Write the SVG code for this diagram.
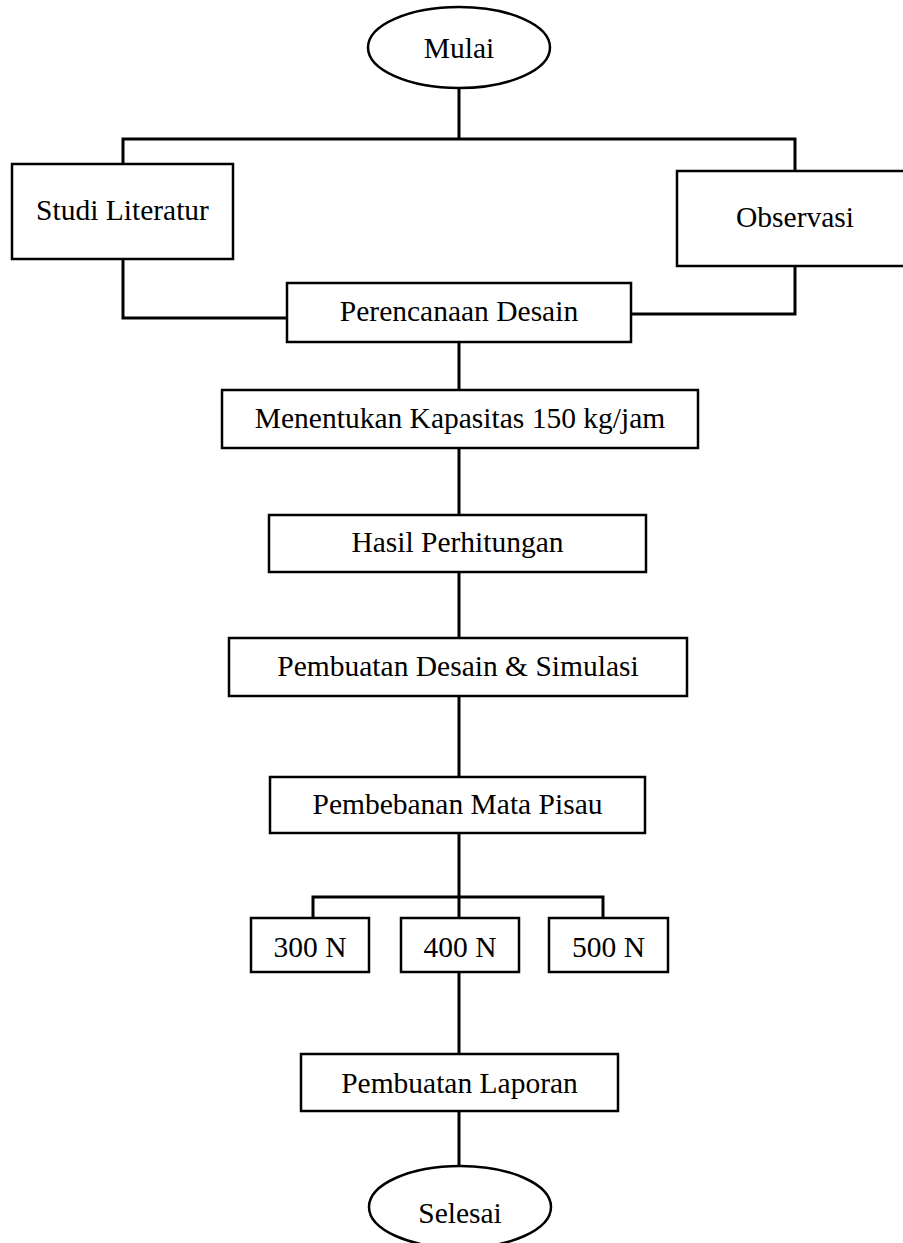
<svg xmlns="http://www.w3.org/2000/svg" width="903" height="1243" viewBox="0 0 903 1243">
<style>
.box{fill:#fff;stroke:#000;stroke-width:2.5}
.ln{fill:none;stroke:#000;stroke-width:3;stroke-linecap:square;stroke-linejoin:miter}
text{font-family:"Liberation Serif","Times New Roman",serif;font-size:29.5px;fill:#000;text-anchor:middle}
</style>
<rect width="903" height="1243" fill="#fff"/>
<g id="connectors">
<path class="ln" d="M459,88 V139 M123,139 H795 M123,139 V164 M795,139 V171"/>
<path class="ln" d="M123,259 V318 H287 M795,266 V314 H631"/>
<path class="ln" d="M459,342 V390 M459,448 V515 M459,572 V638 M459,696 V777 M459,833 V918"/>
<path class="ln" d="M313,897 H603 M313,897 V918 M603,897 V918"/>
<path class="ln" d="M459,972 V1054 M459,1111 V1166"/>
</g>
<g id="mulai"><ellipse class="box" cx="459" cy="47.5" rx="91" ry="40.5"/><text x="459" y="58">Mulai</text></g>
<g id="studi"><rect class="box" x="12" y="164" width="221" height="95"/><text x="122.5" y="220">Studi Literatur</text></g>
<g id="observasi"><rect class="box" x="677" y="171" width="235" height="95"/><text x="795" y="227">Observasi</text></g>
<g id="perencanaan"><rect class="box" x="287" y="283" width="344" height="59"/><text x="459" y="321">Perencanaan Desain</text></g>
<g id="kapasitas"><rect class="box" x="222" y="390" width="476" height="58"/><text x="460" y="428">Menentukan Kapasitas 150 kg/jam</text></g>
<g id="hasil"><rect class="box" x="269" y="515" width="377" height="57"/><text x="457.5" y="552">Hasil Perhitungan</text></g>
<g id="desain"><rect class="box" x="229" y="638" width="458" height="58"/><text x="458" y="676">Pembuatan Desain &amp; Simulasi</text></g>
<g id="pembebanan"><rect class="box" x="270" y="777" width="375" height="56"/><text x="457.5" y="814">Pembebanan Mata Pisau</text></g>
<g id="n300"><rect class="box" x="251" y="918" width="118" height="54"/><text x="310" y="957">300 N</text></g>
<g id="n400"><rect class="box" x="401" y="918" width="118" height="54"/><text x="460" y="957">400 N</text></g>
<g id="n500"><rect class="box" x="549" y="918" width="119" height="54"/><text x="608.5" y="957">500 N</text></g>
<g id="laporan"><rect class="box" x="301" y="1054" width="317" height="57"/><text x="459.5" y="1093">Pembuatan Laporan</text></g>
<g id="selesai"><ellipse class="box" cx="460" cy="1207" rx="91" ry="41"/><text x="460" y="1223">Selesai</text></g>
</svg>
